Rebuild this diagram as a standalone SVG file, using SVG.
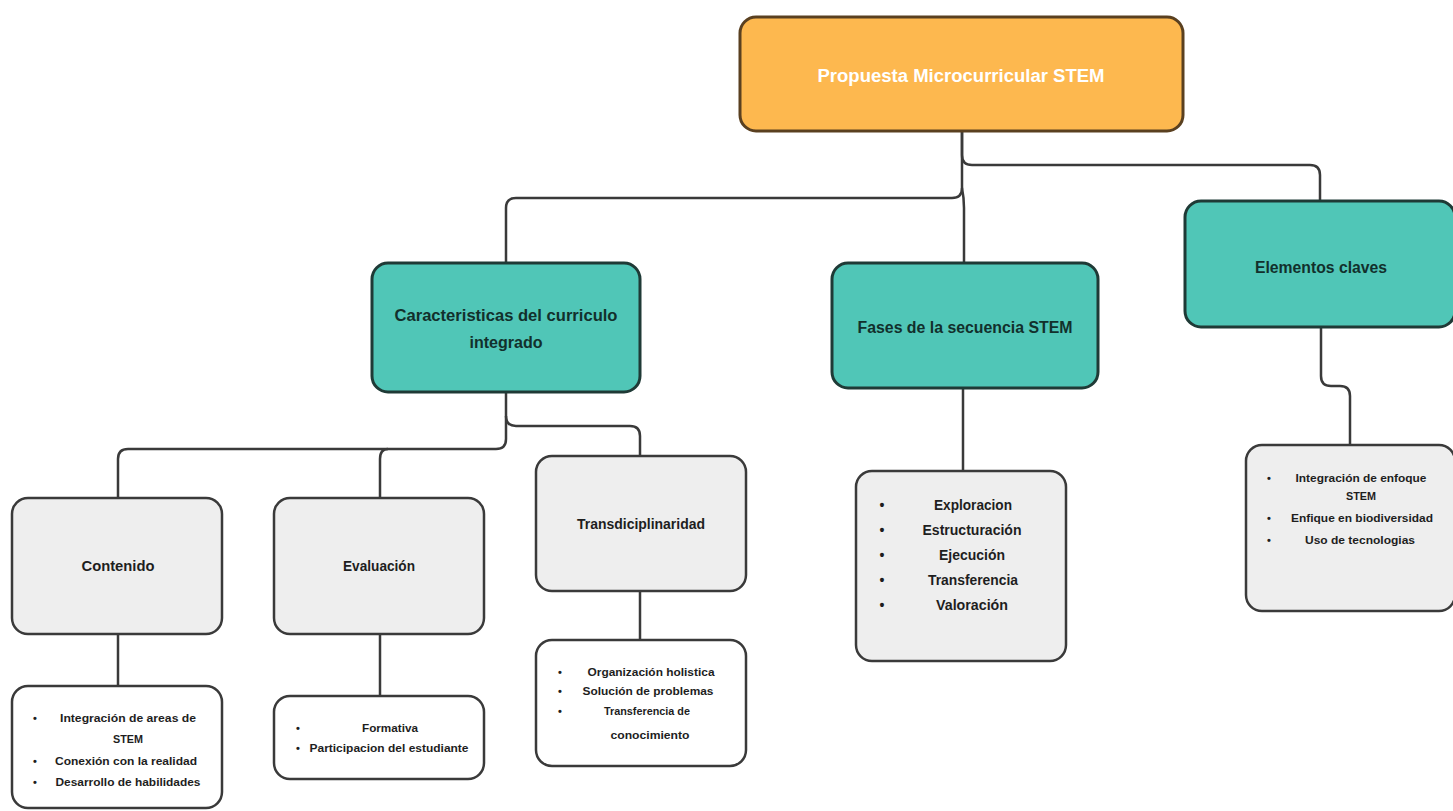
<svg xmlns="http://www.w3.org/2000/svg" width="1453" height="811" viewBox="0 0 1453 811">
<style>
.root{fill:#FDB84F;stroke:#5a4020;stroke-width:3}
.teal{fill:#50C6B7;stroke:#1f3a36;stroke-width:3}
.gray{fill:#EEEEEE;stroke:#3a3a3a;stroke-width:2.5}
.white{fill:#FFFFFF;stroke:#3a3a3a;stroke-width:2.5}
.conn{fill:none;stroke:#3a3a3a;stroke-width:2.5}
text{font-family:"Liberation Sans",Arial,sans-serif;font-weight:bold;text-anchor:middle;fill:#1e1e1e}
.t1{font-size:18px;fill:#ffffff}
.t2{font-size:16px;fill:#12302c}
.t3{font-size:14px}
.t4{font-size:11px}
.t5{font-size:14px}
</style>
<rect width="1453" height="811" fill="#ffffff"/>
<g id="connectors">
<path class="conn" d="M962 131 V155 Q962 165 972 165 H1310 Q1320 165 1320 175 V201"/>
<path class="conn" d="M962 131 V188 Q962 198 952 198 H516 Q506 198 506 208 V263"/>
<path class="conn" d="M962 188 Q964 198 964 208 V263"/>
<path class="conn" d="M1321 327 V376 Q1321 386 1331 386 H1340 Q1350 386 1350 396 V445"/>
<path class="conn" d="M506 392 V416 Q506 426 516 426 H630 Q640 426 640 436 V456"/>
<path class="conn" d="M506 416 V439 Q506 449 496 449 H128 Q118 449 118 459 V498"/>
<path class="conn" d="M388 449 Q380 449 380 459 V498"/>
<path class="conn" d="M118 634 V686"/>
<path class="conn" d="M380 634 V696"/>
<path class="conn" d="M640 591 V640"/>
<path class="conn" d="M963 388 V471"/>
</g>
<g id="root">
<rect class="root" x="740" y="17" width="443" height="114" rx="16"/>
<text class="t1" x="961" y="82" textLength="287" lengthAdjust="spacingAndGlyphs">Propuesta Microcurricular STEM</text>
</g>
<g id="caracteristicas">
<rect class="teal" x="372" y="263" width="268" height="129" rx="16"/>
<text class="t2" x="506" y="321" textLength="223" lengthAdjust="spacingAndGlyphs">Caracteristicas del curriculo</text>
<text class="t2" x="506" y="348" textLength="73" lengthAdjust="spacingAndGlyphs">integrado</text>
</g>
<g id="fases">
<rect class="teal" x="832" y="263" width="266" height="125" rx="16"/>
<text class="t2" x="965" y="333" textLength="215" lengthAdjust="spacingAndGlyphs">Fases de la secuencia STEM</text>
</g>
<g id="elementos">
<rect class="teal" x="1185" y="201" width="270" height="126" rx="16"/>
<text class="t2" x="1321" y="273" textLength="132" lengthAdjust="spacingAndGlyphs">Elementos claves</text>
</g>
<g id="contenido">
<rect class="gray" x="12" y="498" width="210" height="136" rx="16"/>
<text class="t3" x="118" y="571" textLength="73" lengthAdjust="spacingAndGlyphs">Contenido</text>
</g>
<g id="evaluacion">
<rect class="gray" x="274" y="498" width="210" height="136" rx="16"/>
<text class="t3" x="379" y="571" textLength="72" lengthAdjust="spacingAndGlyphs">Evaluación</text>
</g>
<g id="transdiciplinaridad">
<rect class="gray" x="536" y="456" width="210" height="135" rx="16"/>
<text class="t3" x="641" y="529" textLength="128" lengthAdjust="spacingAndGlyphs">Transdiciplinaridad</text>
</g>
<g id="contenido-list">
<rect class="white" x="12" y="686" width="210" height="122" rx="16"/>
<text class="t4" x="35" y="722">•</text>
<text class="t4" x="128" y="722" textLength="136" lengthAdjust="spacingAndGlyphs">Integración de areas de</text>
<text class="t4" x="128" y="743" textLength="30" lengthAdjust="spacingAndGlyphs">STEM</text>
<text class="t4" x="35" y="765">•</text>
<text class="t4" x="126" y="765" textLength="142" lengthAdjust="spacingAndGlyphs">Conexión con la realidad</text>
<text class="t4" x="35" y="786">•</text>
<text class="t4" x="128" y="786" textLength="145" lengthAdjust="spacingAndGlyphs">Desarrollo de habilidades</text>
</g>
<g id="evaluacion-list">
<rect class="white" x="274" y="696" width="210" height="83" rx="16"/>
<text class="t4" x="298" y="732">•</text>
<text class="t4" x="390" y="732" textLength="56" lengthAdjust="spacingAndGlyphs">Formativa</text>
<text class="t4" x="298" y="752">•</text>
<text class="t4" x="389" y="752" textLength="159" lengthAdjust="spacingAndGlyphs">Participacion del estudiante</text>
</g>
<g id="transdiciplinaridad-list">
<rect class="white" x="536" y="640" width="210" height="126" rx="16"/>
<text class="t4" x="560" y="676">•</text>
<text class="t4" x="651" y="676" textLength="127" lengthAdjust="spacingAndGlyphs">Organización holistica</text>
<text class="t4" x="560" y="695">•</text>
<text class="t4" x="648" y="695" textLength="131" lengthAdjust="spacingAndGlyphs">Solución de problemas</text>
<text class="t4" x="560" y="715">•</text>
<text class="t4" x="647" y="715" textLength="86" lengthAdjust="spacingAndGlyphs">Transferencia de</text>
<text class="t4" x="650" y="739" textLength="79" lengthAdjust="spacingAndGlyphs">conocimiento</text>
</g>
<g id="fases-list">
<rect class="gray" x="856" y="471" width="210" height="190" rx="16"/>
<text class="t5" x="882" y="510">•</text>
<text class="t5" x="973" y="510" textLength="78" lengthAdjust="spacingAndGlyphs">Exploracion</text>
<text class="t5" x="882" y="535">•</text>
<text class="t5" x="972" y="535" textLength="99" lengthAdjust="spacingAndGlyphs">Estructuración</text>
<text class="t5" x="882" y="560">•</text>
<text class="t5" x="972" y="560" textLength="66" lengthAdjust="spacingAndGlyphs">Ejecución</text>
<text class="t5" x="882" y="585">•</text>
<text class="t5" x="973" y="585" textLength="90" lengthAdjust="spacingAndGlyphs">Transferencia</text>
<text class="t5" x="882" y="610">•</text>
<text class="t5" x="972" y="610" textLength="72" lengthAdjust="spacingAndGlyphs">Valoración</text>
</g>
<g id="elementos-list">
<rect class="gray" x="1246" y="445" width="209" height="166" rx="16"/>
<text class="t4" x="1269" y="482">•</text>
<text class="t4" x="1361" y="482" textLength="131" lengthAdjust="spacingAndGlyphs">Integración de enfoque</text>
<text class="t4" x="1361" y="500" textLength="30" lengthAdjust="spacingAndGlyphs">STEM</text>
<text class="t4" x="1269" y="522">•</text>
<text class="t4" x="1362" y="522" textLength="142" lengthAdjust="spacingAndGlyphs">Enfique en biodiversidad</text>
<text class="t4" x="1269" y="544">•</text>
<text class="t4" x="1360" y="544" textLength="110" lengthAdjust="spacingAndGlyphs">Uso de tecnologias</text>
</g>
</svg>
